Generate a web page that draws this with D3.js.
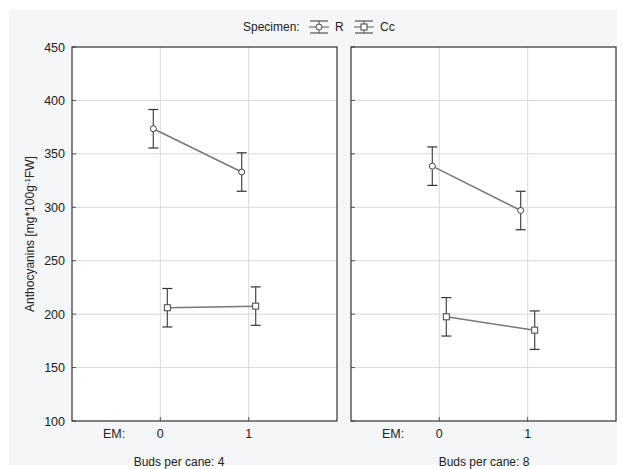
<!DOCTYPE html>
<html>
<head>
<meta charset="utf-8">
<script src="https://cdn.jsdelivr.net/npm/d3@7"></script>
<style>
  body { margin: 0; background: #fff; }
  svg { display: block; font-family: "Liberation Sans", Arial, sans-serif; }
</style>
</head>
<body>
<div id="chart"></div>
<script>
// data
var panels = ["Buds per cane: 4", "Buds per cane: 8"];
var emLevels = [0, 1];
var specimens = ["R", "Cc"];
var meansR = [[373.5, 333], [338.5, 297]];
var meansCc = [[206, 207.5], [197.5, 185]];
var errR = [[18, 18], [18, 18]];
var errCc = [[18, 18], [18, 18]];
var yTicks = [100, 150, 200, 250, 300, 350, 400, 450];

var W = 622, H = 469;
var svg = d3.select("#chart").append("svg")
    .attr("width", W).attr("height", H);

// outer gray area
svg.append("rect")
    .attr("x", 9).attr("y", 10).attr("width", 608).attr("height", 455)
    .attr("fill", "#f5f6f8");

var plotTop = 47, plotBottom = 421;
var panelX = [72, 351], panelW = 265;
var y = d3.scaleLinear().domain([100, 450]).range([plotBottom, plotTop]);

var series = [
    {name: specimens[0], means: meansR, err: errR, shift: -7, shape: "circle"},
    {name: specimens[1], means: meansCc, err: errCc, shift: 7, shape: "square"}
];

function drawMarker(g, shape, cx, cy) {
    if (shape == "circle") {
        g.append("circle").attr("cx", cx).attr("cy", cy).attr("r", 3)
            .attr("fill", "#fff").attr("stroke", "#444").attr("stroke-width", 1);
    } else {
        g.append("rect").attr("x", cx - 3).attr("y", cy - 3)
            .attr("width", 6).attr("height", 6)
            .attr("fill", "#fff").attr("stroke", "#444").attr("stroke-width", 1);
    }
}

panels.forEach(function(title, p) {
    var x = d3.scaleLinear().domain([-1, 2]).range([panelX[p], panelX[p] + panelW]);
    var g = svg.append("g");

    g.append("rect")
        .attr("x", panelX[p]).attr("y", plotTop)
        .attr("width", panelW).attr("height", plotBottom - plotTop)
        .attr("fill", "#fff");

    // grid
    g.selectAll(".hg").data(yTicks.slice(1, -1)).enter().append("line")
        .attr("x1", panelX[p]).attr("x2", panelX[p] + panelW)
        .attr("y1", function(d) { return y(d); }).attr("y2", function(d) { return y(d); })
        .attr("stroke", "#d9d9d9").attr("stroke-width", 1);
    g.selectAll(".vg").data(emLevels).enter().append("line")
        .attr("x1", function(d) { return x(d); }).attr("x2", function(d) { return x(d); })
        .attr("y1", plotTop).attr("y2", plotBottom)
        .attr("stroke", "#d9d9d9").attr("stroke-width", 1);

    // inner ticks
    g.selectAll(".yt").data(yTicks).enter().append("line")
        .attr("x1", panelX[p]).attr("x2", panelX[p] + 4)
        .attr("y1", function(d) { return y(d); }).attr("y2", function(d) { return y(d); })
        .attr("stroke", "#555");
    g.selectAll(".xt").data(emLevels).enter().append("line")
        .attr("x1", function(d) { return x(d); }).attr("x2", function(d) { return x(d); })
        .attr("y1", plotBottom).attr("y2", plotBottom - 4)
        .attr("stroke", "#555");

    // series
    series.forEach(function(s) {
        var pts = emLevels.map(function(e, i) {
            return {cx: x(e) + s.shift, m: s.means[p][i], e: s.err[p][i]};
        });
        g.append("path")
            .attr("d", d3.line().x(function(d) { return d.cx; }).y(function(d) { return y(d.m); })(pts))
            .attr("fill", "none").attr("stroke", "#777").attr("stroke-width", 1.5);
        pts.forEach(function(d) {
            g.append("line").attr("x1", d.cx).attr("x2", d.cx)
                .attr("y1", y(d.m + d.e)).attr("y2", y(d.m - d.e))
                .attr("stroke", "#555").attr("stroke-width", 1.3);
            [d.m + d.e, d.m - d.e].forEach(function(v) {
                g.append("line").attr("x1", d.cx - 5).attr("x2", d.cx + 5)
                    .attr("y1", y(v)).attr("y2", y(v))
                    .attr("stroke", "#333").attr("stroke-width", 1.2);
            });
            drawMarker(g, s.shape, d.cx, y(d.m));
        });
    });

    // frame
    g.append("rect")
        .attr("x", panelX[p]).attr("y", plotTop)
        .attr("width", panelW).attr("height", plotBottom - plotTop)
        .attr("fill", "none").attr("stroke", "#333").attr("stroke-width", 1.2);

    // x labels
    g.append("text").attr("x", panelX[p] + 31).attr("y", 438)
        .attr("font-size", 12.5).attr("fill", "#222").text("EM:");
    g.selectAll(".xl").data(emLevels).enter().append("text")
        .attr("x", function(d) { return x(d); }).attr("y", 438)
        .attr("text-anchor", "middle").attr("font-size", 12.5).attr("fill", "#222")
        .text(function(d) { return d; });
    g.append("text").attr("x", p == 0 ? 179 : 484).attr("y", 466)
        .attr("text-anchor", "middle").attr("font-size", 12).attr("fill", "#222")
        .text(title);
});

// y axis labels
svg.selectAll(".yl").data(yTicks).enter().append("text")
    .attr("x", 65).attr("y", function(d) { return y(d) + 4.5; })
    .attr("text-anchor", "end").attr("font-size", 12.5).attr("fill", "#222")
    .text(function(d) { return d; });

var yl = svg.append("text")
    .attr("transform", "translate(34," + ((plotTop + plotBottom) / 2) + ") rotate(-90)")
    .attr("text-anchor", "middle").attr("font-size", 12).attr("fill", "#222");
yl.append("tspan").text("Anthocyanins [mg*100g");
yl.append("tspan").attr("font-size", 8).attr("dy", -4).text("-1");
yl.append("tspan").attr("dy", 4).text("FW]");

// legend
var leg = svg.append("g");
leg.append("text").attr("x", 243).attr("y", 31).attr("font-size", 12).attr("fill", "#222")
    .text("Specimen:");
var legX = [309, 354];
series.forEach(function(s, i) {
    var lx = legX[i], cx = lx + 10, cy = 27;
    leg.append("line").attr("x1", lx).attr("x2", lx + 20).attr("y1", cy).attr("y2", cy)
        .attr("stroke", "#777").attr("stroke-width", 1.2);
    leg.append("line").attr("x1", cx).attr("x2", cx).attr("y1", cy - 6).attr("y2", cy + 6)
        .attr("stroke", "#555");
    [cy - 6, cy + 6].forEach(function(v) {
        leg.append("line").attr("x1", lx + 1).attr("x2", lx + 19).attr("y1", v).attr("y2", v)
            .attr("stroke", "#333");
    });
    drawMarker(leg, s.shape, cx, cy);
    leg.append("text").attr("x", lx + 26).attr("y", 31).attr("font-size", 12).attr("fill", "#222")
        .text(s.name);
});
</script>
</body>
</html>
